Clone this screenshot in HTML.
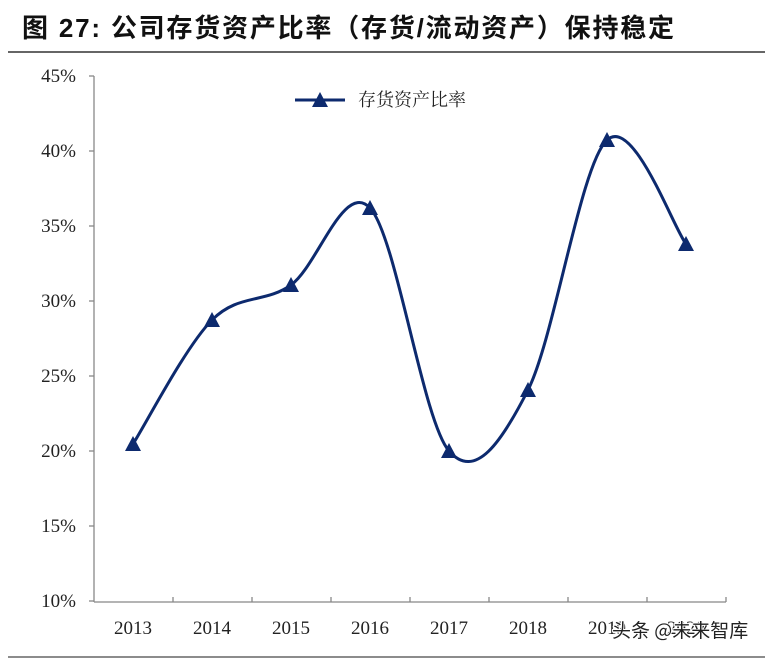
<!DOCTYPE html>
<html><head><meta charset="utf-8"><style>
body{margin:0;background:#fff;width:771px;height:658px;overflow:hidden}
</style></head><body>
<svg width="771" height="658" xmlns="http://www.w3.org/2000/svg" style="position:absolute;left:0;top:0">
<text x="22" y="37" font-family="'Liberation Sans','Noto Sans CJK SC',sans-serif" font-size="26" font-weight="bold" fill="#111" letter-spacing="1.8">图 27:  公司存货资产比率（存货/流动资产）保持稳定</text>
<line x1="8" y1="52" x2="765" y2="52" stroke="#333" stroke-width="1.5"/>
<line x1="8" y1="657" x2="765" y2="657" stroke="#666" stroke-width="1.5"/>
<g stroke="#888" stroke-width="1.3" fill="none">
<line x1="94" y1="76" x2="94" y2="602"/>
<line x1="94" y1="602" x2="726" y2="602"/>
<line x1="89" y1="76" x2="94" y2="76"/><line x1="89" y1="151" x2="94" y2="151"/><line x1="89" y1="226" x2="94" y2="226"/><line x1="89" y1="301" x2="94" y2="301"/><line x1="89" y1="376" x2="94" y2="376"/><line x1="89" y1="451" x2="94" y2="451"/><line x1="89" y1="526" x2="94" y2="526"/><line x1="89" y1="601" x2="94" y2="601"/>
<line x1="173" y1="597" x2="173" y2="602"/><line x1="252" y1="597" x2="252" y2="602"/><line x1="331" y1="597" x2="331" y2="602"/><line x1="410" y1="597" x2="410" y2="602"/><line x1="489" y1="597" x2="489" y2="602"/><line x1="568" y1="597" x2="568" y2="602"/><line x1="647" y1="597" x2="647" y2="602"/><line x1="726" y1="597" x2="726" y2="602"/>
</g>
<g font-family="'Liberation Serif',serif" font-size="19" fill="#222" text-anchor="end">
<text x="76" y="82">45%</text><text x="76" y="157">40%</text><text x="76" y="232">35%</text><text x="76" y="307">30%</text><text x="76" y="382">25%</text><text x="76" y="457">20%</text><text x="76" y="532">15%</text><text x="76" y="607">10%</text>
</g>
<g font-family="'Liberation Serif',serif" font-size="19" fill="#222" text-anchor="middle">
<text x="133" y="634">2013</text><text x="212" y="634">2014</text><text x="291" y="634">2015</text><text x="370" y="634">2016</text><text x="449" y="634">2017</text><text x="528" y="634">2018</text><text x="607" y="634">2019</text><text x="686" y="634">2020</text>
</g>
<text x="612" y="637" font-family="'Noto Sans CJK SC',sans-serif" font-size="19" fill="#222" stroke="#fff" stroke-width="2" paint-order="stroke">头条 @未来智库</text>
<path d="M133,444 C146.2,423.3 185.7,346.5 212,320 C238.3,293.5 264.7,303.7 291,285 C317.3,266.3 343.7,180.3 370,208 C396.3,235.7 422.7,420.7 449,451 C475.3,481.3 501.7,441.8 528,390 C554.3,338.2 580.7,164.3 607,140 C633.3,115.7 672.8,226.7 686,244" fill="none" stroke="#0d2a6e" stroke-width="3"/>
<g fill="#0d2a6e">
<polygon points="133,436 125,451 141,451"/><polygon points="212,312 204,327 220,327"/><polygon points="291,277 283,292 299,292"/><polygon points="370,200 362,215 378,215"/><polygon points="449,443 441,458 457,458"/><polygon points="528,382 520,397 536,397"/><polygon points="607,132 599,147 615,147"/><polygon points="686,236 678,251 694,251"/>
<polygon points="320,92 312,107 328,107"/>
</g>
<line x1="295" y1="100" x2="345" y2="100" stroke="#0d2a6e" stroke-width="3"/>
<text x="358" y="106" font-family="'Noto Serif CJK SC',serif" font-size="18" fill="#222">存货资产比率</text>
</svg>
</body></html>
